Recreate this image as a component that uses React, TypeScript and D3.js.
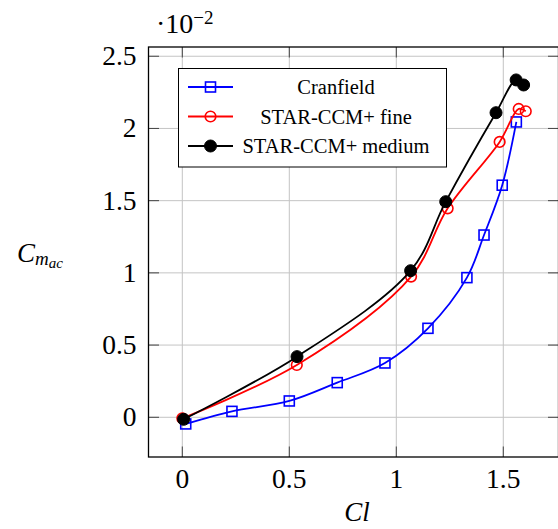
import React from "react";
import * as d3 from "d3";

// Data (values in units of 10^-2)
const cranfieldCl = [0.016, 0.232, 0.5, 0.724, 0.947, 1.148, 1.33, 1.41, 1.495, 1.561];
const cranfieldCm = [-0.046, 0.041, 0.113, 0.24, 0.376, 0.616, 0.967, 1.262, 1.607, 2.045];
const fineCl = [0.0, 0.535, 1.069, 1.24, 1.483, 1.572, 1.605];
const fineCm = [-0.007, 0.362, 0.974, 1.447, 1.907, 2.135, 2.119];
const mediumCl = [0.006, 0.536, 1.067, 1.231, 1.466, 1.56, 1.595];
const mediumCm = [-0.014, 0.42, 1.015, 1.493, 2.109, 2.336, 2.301];
const xTicks = [0, 0.5, 1, 1.5];
const yTicks = [0, 0.5, 1, 1.5, 2, 2.5];
const seriesNames = ["Cranfield", "STAR-CCM+ fine", "STAR-CCM+ medium"];

const W = 558, H = 529;
const L = 148.5, R = 558.5, T = 47, B = 457;
const FONT = "'Liberation Serif', 'Times New Roman', serif";

export default function App() {
  const x = d3.scaleLinear().domain([-0.158, 1.758]).range([L, R]);
  const y = d3.scaleLinear().domain([-0.275, 2.564]).range([B, T]);
  const line = d3
    .line<[number, number]>()
    .x((d) => x(d[0]))
    .y((d) => y(d[1]))
    .curve(d3.curveCatmullRom.alpha(0.5));

  const series = [
    { name: seriesNames[0], xs: cranfieldCl, ys: cranfieldCm, color: "#0000ff", marker: "square" },
    { name: seriesNames[1], xs: fineCl, ys: fineCm, color: "#ff0000", marker: "circle" },
    { name: seriesNames[2], xs: mediumCl, ys: mediumCm, color: "#000000", marker: "dot" },
  ];

  const marker = (type: string, cx: number, cy: number, color: string, key: any) => {
    if (type === "square")
      return <rect key={key} x={cx - 5} y={cy - 5} width={10} height={10} fill="none" stroke={color} strokeWidth={1.6} />;
    if (type === "circle")
      return <circle key={key} cx={cx} cy={cy} r={5.3} fill="none" stroke={color} strokeWidth={1.6} />;
    return <circle key={key} cx={cx} cy={cy} r={6} fill={color} stroke={color} strokeWidth={1} />;
  };

  const legendRows = [87, 116.5, 146];

  return (
    <svg width={W} height={H} style={{ position: "absolute", left: 0, top: 0, background: "#fff" }}>
      {/* grid */}
      {xTicks.map((t) => (
        <line key={"gx" + t} x1={x(t)} x2={x(t)} y1={T} y2={B} stroke="#c4c4c4" strokeWidth={1} />
      ))}
      {yTicks.map((t) => (
        <line key={"gy" + t} x1={L} x2={R} y1={y(t)} y2={y(t)} stroke="#c4c4c4" strokeWidth={1} />
      ))}
      {/* ticks */}
      {xTicks.map((t) => (
        <g key={"tx" + t}>
          <line x1={x(t)} x2={x(t)} y1={B} y2={B - 10.5} stroke="#444" strokeWidth={1} />
          <line x1={x(t)} x2={x(t)} y1={T} y2={T + 10.5} stroke="#444" strokeWidth={1} />
          <text x={x(t)} y={488} textAnchor="middle" fontFamily={FONT} fontSize={27.5} fill="#000">
            {String(t)}
          </text>
        </g>
      ))}
      {yTicks.map((t) => (
        <g key={"ty" + t}>
          <line x1={L} x2={L + 10.5} y1={y(t)} y2={y(t)} stroke="#444" strokeWidth={1} />
          <line x1={R} x2={R - 10.5} y1={y(t)} y2={y(t)} stroke="#444" strokeWidth={1} />
          <text x={136.5} y={y(t) + 9} textAnchor="end" fontFamily={FONT} fontSize={27.5} fill="#000">
            {String(t)}
          </text>
        </g>
      ))}
      {/* axes box */}
      <rect x={L} y={T} width={R - L} height={B - T} fill="none" stroke="#000" strokeWidth={1.3} />

      {/* series */}
      {series.map((s) => {
        const pts = s.xs.map((v, i) => [v, s.ys[i]] as [number, number]);
        return (
          <g key={s.name}>
            <path d={line(pts) || ""} fill="none" stroke={s.color} strokeWidth={1.8} />
            {pts.map((p, i) => marker(s.marker, x(p[0]), y(p[1]), s.color, i))}
          </g>
        );
      })}

      {/* legend */}
      <rect x={178.5} y={68.5} width={268} height={98.5} fill="#fff" stroke="#000" strokeWidth={1} />
      {series.map((s, i) => (
        <g key={"lg" + s.name}>
          <line x1={188} x2={233} y1={legendRows[i]} y2={legendRows[i]} stroke={s.color} strokeWidth={1.8} />
          {marker(s.marker, 210.5, legendRows[i], s.color, "m")}
          <text x={336} y={legendRows[i] + 7} textAnchor="middle" fontFamily={FONT} fontSize={20.5} fill="#000">
            {s.name}
          </text>
        </g>
      ))}

      {/* multiplier */}
      <text x={156} y={33} fontFamily={FONT} fontSize={28} fill="#000">
        ·10
        <tspan fontSize={19} dy={-9}>−2</tspan>
      </text>

      {/* axis labels */}
      <text x={357} y={521} textAnchor="middle" fontFamily={FONT} fontStyle="italic" fontSize={27} fill="#000">
        Cl
      </text>
      <text x={17} y={262} fontFamily={FONT} fontStyle="italic" fontSize={27} fill="#000">
        C
        <tspan fontSize={19} dy={3}>m</tspan>
        <tspan fontSize={15} dy={3}>ac</tspan>
      </text>
    </svg>
  );
}
